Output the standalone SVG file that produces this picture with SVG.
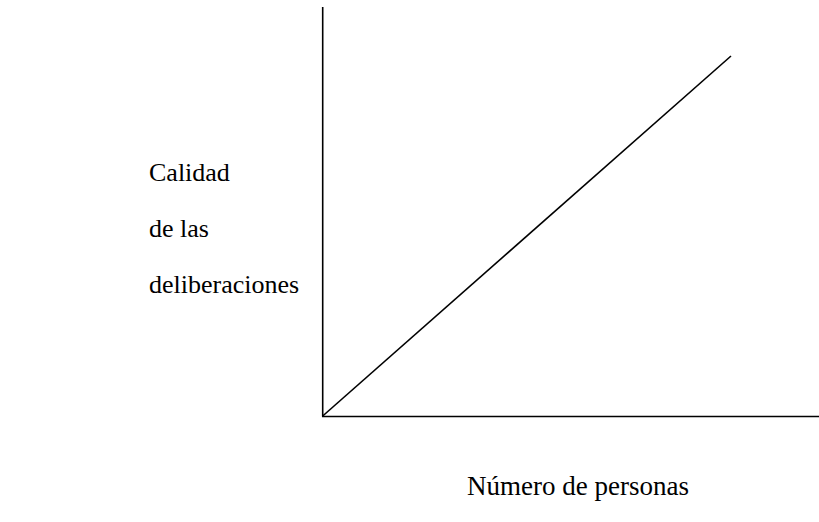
<svg xmlns="http://www.w3.org/2000/svg" width="819" height="522" viewBox="0 0 819 522">
<style>
.ax{stroke:#000;stroke-width:1.6;fill:none}
.lb{font-family:"Liberation Serif","Times New Roman",serif;font-size:26px;fill:#000}
.xl{font-size:27px}
</style>
<rect width="819" height="522" fill="#fff"/>
<g id="connectors">
<line class="ax" x1="322.7" y1="7" x2="322.7" y2="416.5"/>
<line class="ax" x1="322" y1="416.5" x2="819" y2="416.5"/>
<line class="ax" x1="322.7" y1="416" x2="731" y2="56"/>
</g>
<g id="ylabel">
<text class="lb" x="149" y="181">Calidad</text>
<text class="lb" x="149" y="237">de las</text>
<text class="lb" x="149" y="293">deliberaciones</text>
</g>
<g id="xlabel">
<text class="lb xl" x="467" y="495">Número de personas</text>
</g>
</svg>
